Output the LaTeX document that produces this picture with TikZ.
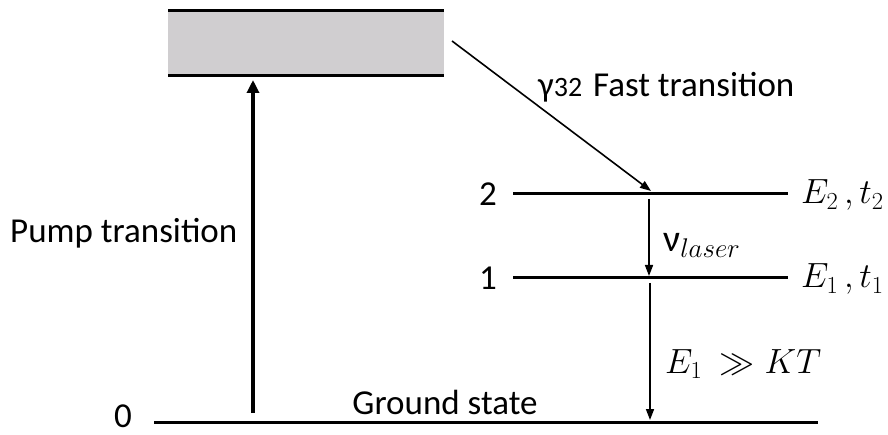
\documentclass[tikz,border=0pt]{standalone}
\usepackage{fix-cm}
\usepackage{fontspec}
\setmainfont{Carlito}
\usetikzlibrary{arrows.meta}
\definecolor{bandgray}{HTML}{D0CED0}
\begin{document}
\begin{tikzpicture}[x=1pt,y=-1pt,
  level/.style={line width=3pt},
  thinarrow/.style={line width=1.6pt,-{Triangle[length=11pt,width=8pt]}},
  pumparrow/.style={line width=3.2pt,-{Triangle[length=13pt,width=12pt]}},
  lbl/.style={font=\fontsize{35}{40}\selectfont, inner sep=0pt},
  mlbl/.style={font=\fontsize{35}{40}\selectfont, inner sep=0pt}]
\useasboundingbox (0,0) rectangle (888,435);
% excited band
\fill[bandgray] (168,11) rectangle (444,76);
\draw[level] (168,11) coordinate (bandTL) -- (444,11) coordinate (bandTR);
\draw[level] (168,76) coordinate (bandBL) -- (444,76) coordinate (bandBR);
% levels
\draw[level] (513,194) coordinate (L2a) -- (788,194) coordinate (L2b);
\draw[level] (513,278) coordinate (L1a) -- (788,278) coordinate (L1b);
\draw[level] (154,422) coordinate (G0a) -- (818,422) coordinate (G0b);
% connector end points
\coordinate (pumpS) at (253,413);
\coordinate (pumpE) at (253,80);
\coordinate (fastS) at (452,41);
\coordinate (fastE) at (651,191);
\coordinate (lasS) at (649,199);
\coordinate (lasE) at (649,276);
\coordinate (grS) at (650,283);
\coordinate (grE) at (650,420);
\draw[pumparrow] (pumpS) -- (pumpE);
\draw[thinarrow] (fastS) -- (fastE);
\draw[thinarrow] (lasS) -- (lasE);
\draw[thinarrow] (grS) -- (grE);
% labels
\node[lbl, anchor=base west] (pump) at (10,243) {Pump transition};
\node[lbl, anchor=base] (ground) at (445,414) {Ground state};
\node[lbl, anchor=base] (n0) at (123,427) {0};
\node[lbl] (n1) at (488,278) {1};
\node[lbl] (n2) at (488,194) {2};
\node[lbl, anchor=base west] (fast) at (538,97) {γ{\fontsize{28}{30}\selectfont 32}\hspace{3pt} Fast transition};
\node[mlbl, anchor=base west] (nu) at (663,252) {{\fontsize{38}{40}\selectfont ν}\raisebox{-6pt}{\fontsize{27}{30}\selectfont$laser$}};
\node[mlbl, anchor=base west] (e2) at (801,204) {$E_2\,,t_2$};
\node[mlbl, anchor=base west] (e1) at (801,288) {$E_1\,,t_1$};
\node[mlbl, anchor=base west] (ekt) at (665,373) {$E_1\ \gg KT$};
\end{tikzpicture}
\end{document}
